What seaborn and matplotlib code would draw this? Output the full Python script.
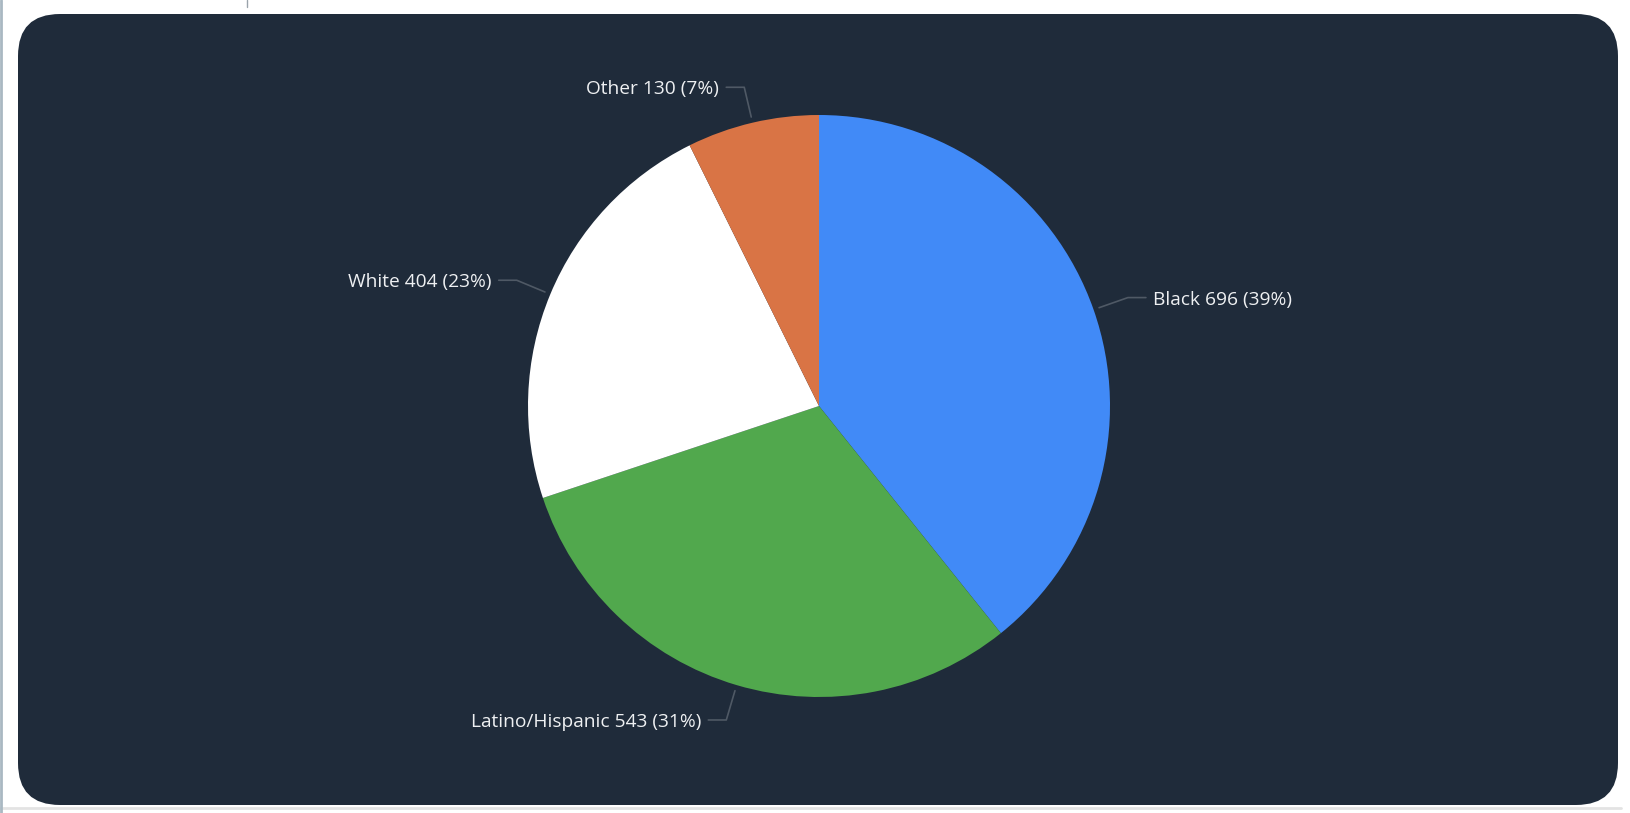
import numpy as np
import matplotlib
matplotlib.use("Agg")
import matplotlib.pyplot as plt
from matplotlib.patches import FancyBboxPatch
import seaborn as sns

categories = ["Black", "Latino/Hispanic", "White", "Other"]
counts = [696, 543, 404, 130]
percent_labels = ["39%", "31%", "23%", "7%"]
colors = ["#418af7", "#51a84d", "#ffffff", "#d97445"]

sns.set_style("white")
plt.rcParams["font.family"] = ["Open Sans", "DejaVu Sans"]
palette = sns.color_palette(colors)

W, H = 1631, 813
fig = plt.figure(figsize=(W / 100, H / 100), dpi=100)
fig.patch.set_facecolor("white")
ax = fig.add_axes([0, 0, 1, 1])

# dark rounded panel
panel_bg = "#1f2b3a"
ax.add_patch(FancyBboxPatch((18 + 42, 8 + 42), 1600 - 84, 791 - 84,
                            boxstyle="round,pad=42", fc=panel_bg, ec="none", zorder=0))
# small page decorations
ax.plot([247, 247], [H, H - 7], color="#9aa3ab", lw=1, zorder=0)
ax.plot([0, 1621], [H - 808, H - 808], color="#e3e3e3", lw=2, zorder=0)
ax.plot([1, 1], [0, H], color="#a9b8c2", lw=2, zorder=0)

cx, cy, r = 819, H - 406, 291
wedges, _ = ax.pie(counts, colors=palette, startangle=90, counterclock=False,
                   center=(cx, cy), radius=r, wedgeprops=dict(linewidth=0),
                   frame=True)

ax.set_xlim(0, W)
ax.set_ylim(0, H)
ax.set_aspect("equal")
ax.axis("off")

line_col = "#4f5965"
for w, cat, n, p in zip(wedges, categories, counts, percent_labels):
    ang = np.deg2rad((w.theta1 + w.theta2) / 2)
    x0, y0 = cx + 1.02 * r * np.cos(ang), cy + 1.02 * r * np.sin(ang)
    x1, y1 = cx + 1.125 * r * np.cos(ang), cy + 1.125 * r * np.sin(ang)
    side = 1 if np.cos(ang) >= 0 else -1
    x2 = x1 + side * 18
    ax.plot([x0, x1, x2], [y0, y1, y1], color=line_col, lw=1.2, zorder=3)
    ax.text(x2 + side * 7, y1 - 2, f"{cat} {n} ({p})", color="#eef0f2", fontsize=13.8,
            ha="left" if side > 0 else "right", va="center", zorder=4)

fig.savefig("out.png", dpi=100, facecolor=fig.get_facecolor())
